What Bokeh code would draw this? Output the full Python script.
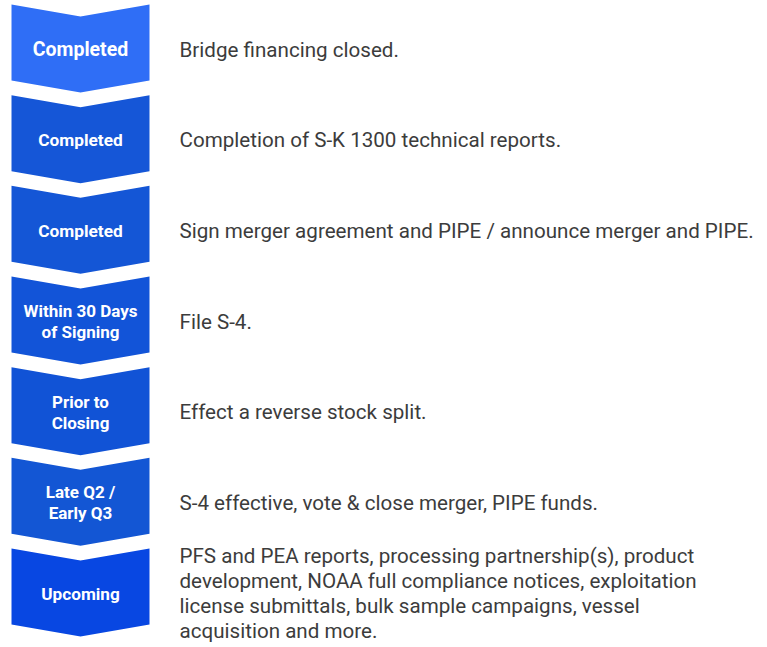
from bokeh.plotting import figure
from bokeh.models import Range1d, ColumnDataSource
from bokeh.core.properties import value
from bokeh.embed import file_html
from bokeh.resources import INLINE

# ---- data ----
stages = ["Completed", "Completed", "Completed", "Within 30 Days\nof Signing",
          "Prior to\nClosing", "Late Q2 /\nEarly Q3", "Upcoming"]
descriptions = [
    "Bridge financing closed.",
    "Completion of S-K 1300 technical reports.",
    "Sign merger agreement and PIPE / announce merger and PIPE.",
    "File S-4.",
    "Effect a reverse stock split.",
    "S-4 effective, vote & close merger, PIPE funds.",
    "PFS and PEA reports, processing partnership(s), product\n"
    "development, NOAA full compliance notices, exploitation\n"
    "license submittals, bulk sample campaigns, vessel\n"
    "acquisition and more.",
]
colors = ["#2F6EF6", "#1556D7", "#1456D6", "#1254D8", "#1153D6", "#1356D4", "#0847E2"]
label_sizes = ["19.5px", "17.3px", "17.3px", "17px", "17px", "17px", "17.2px"]

# ---- layout ----
W, H = 767, 647
pitch = 90.67
top0 = 4.0
left, right = 11.0, 149.0
notch = 12.0
side_h = 76.0
tip_h = 88.0
cx = (left + right) / 2

xs, ys, cys = [], [], []
for i in range(len(stages)):
    t = top0 + pitch * i
    xs.append([left, cx, right, right, cx, left])
    ys.append([t, t + notch, t, t + side_h, t + tip_h, t + side_h])
    cys.append(t + (notch + side_h) / 2 + 1)

p = figure(width=W, height=H, output_backend="svg", toolbar_location=None,
           x_range=Range1d(0, W), y_range=Range1d(H, 0),
           min_border=0, min_border_left=0, min_border_right=0,
           min_border_top=0, min_border_bottom=0)
p.axis.visible = False
p.grid.visible = False
p.outline_line_color = None
p.background_fill_color = "white"
p.border_fill_color = "white"

src = ColumnDataSource(dict(xs=xs, ys=ys, color=colors, cy=cys,
                            cx=[cx] * len(stages), label=stages, size=label_sizes,
                            dx=[179] * len(stages), desc=descriptions))
p.patches("xs", "ys", fill_color="color", line_color=None, source=src)

p.text(x="cx", y="cy", text="label", source=src, text_color="white",
       text_font=value("Roboto"), text_font_style="bold", text_font_size="size",
       text_align="center", text_baseline="middle", text_line_height=1.06)

p.text(x="dx", y="cy", text="desc", source=src, text_color="#3C3C3C",
       text_font=value("Roboto"), text_font_size="20.6px",
       text_align="left", text_baseline="middle", text_line_height=1.04)

open("out.html", "w").write(file_html(p, INLINE))
